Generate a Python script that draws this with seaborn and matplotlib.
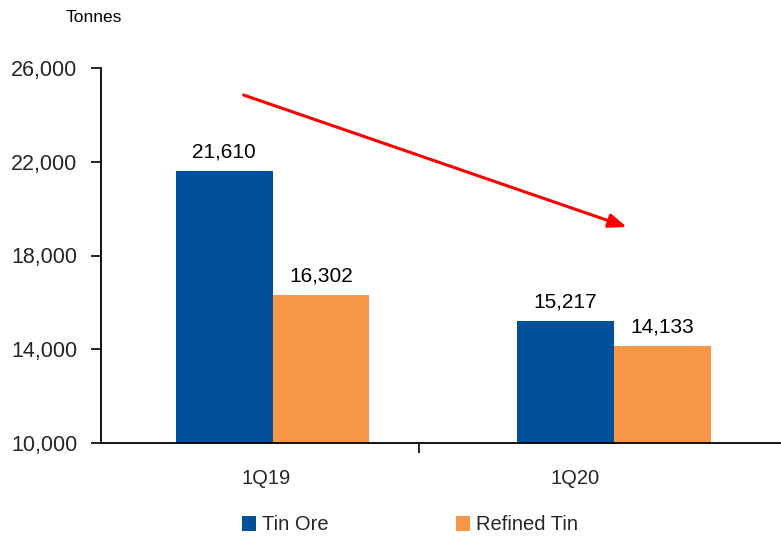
import matplotlib
matplotlib.use("Agg")
import matplotlib.pyplot as plt
import matplotlib.ticker as mticker
import seaborn as sns
import pandas as pd

# Quarterly production, tonnes
periods = ["1Q19", "1Q20"]
series_names = ["Tin Ore", "Refined Tin"]
tin_ore = [21610, 15217]
refined_tin = [16302, 14133]
y_ticks = [10000, 14000, 18000, 22000, 26000]

colors = {"Tin Ore": "#00509A", "Refined Tin": "#F79646"}

df = pd.DataFrame({
    "period": periods * 2,
    "series": [series_names[0]] * len(periods) + [series_names[1]] * len(periods),
    "tonnes": tin_ore + refined_tin,
})

sns.set_theme(style="white")
plt.rcParams["font.family"] = ["Liberation Sans", "DejaVu Sans"]

fig = plt.figure(figsize=(7.81, 5.39), dpi=100)
ax = fig.add_axes([101 / 781, 1 - 443 / 539, 1 - 101 / 781, (443 - 68) / 539])

sns.barplot(data=df, x="period", y="tonnes", hue="series", order=periods,
            hue_order=series_names, palette=colors, width=0.567, gap=0,
            saturation=1, linewidth=0, legend=True, ax=ax)

ax.set_ylim(10000, 26000)
ax.set_xlim(-0.503, 1.49)
ax.set_yticks(y_ticks)
ax.yaxis.set_major_formatter(mticker.FuncFormatter(lambda v, p: f"{v:,.0f}"))
ax.tick_params(axis="y", which="major", direction="out", length=7, width=1.2,
               color="black", pad=10, labelsize=15.5, left=True)

# Category labels sit between the bars; a single divider tick between groups
ax.set_xticks([0.43])
ax.set_xticklabels([""])
ax.set_xticks([-0.02, 0.886], minor=True)
ax.set_xticklabels(periods, minor=True)
ax.tick_params(axis="x", which="major", direction="out", length=7, width=1.2,
               color="black", bottom=True)
ax.tick_params(axis="x", which="minor", length=0, pad=19, labelsize=14.5)
ax.set_xlabel("")
ax.set_ylabel("")

for side in ["top", "right"]:
    ax.spines[side].set_visible(False)
for side in ["left", "bottom"]:
    ax.spines[side].set_color("black")
    ax.spines[side].set_linewidth(1.3)

for cont in ax.containers:
    ax.bar_label(cont, labels=[f"{b.get_height():,.0f}" for b in cont],
                 padding=7, fontsize=15, color="black")

# Downward trend arrow
ax.annotate("", xy=(1.038, 19216), xytext=(-0.085, 24848),
            arrowprops=dict(arrowstyle="-|>,head_length=0.9,head_width=0.35",
                            color="#FF0000", lw=2.2, shrinkA=0, shrinkB=0))

fig.text(94 / 781, 1 - 18 / 539, "Tonnes", ha="center", va="center",
         fontsize=12.5, color="black")

handles, labels = ax.get_legend_handles_labels()
ax.get_legend().remove()
fig.legend(handles, labels, loc="center", bbox_to_anchor=(410 / 781, 1 - 525 / 539),
           ncol=2, frameon=False, fontsize=14.5, handlelength=0.7, handleheight=0.7,
           handletextpad=0.3, columnspacing=6.3, borderpad=0, borderaxespad=0)

fig.savefig("out.png", dpi=100, facecolor="white")
